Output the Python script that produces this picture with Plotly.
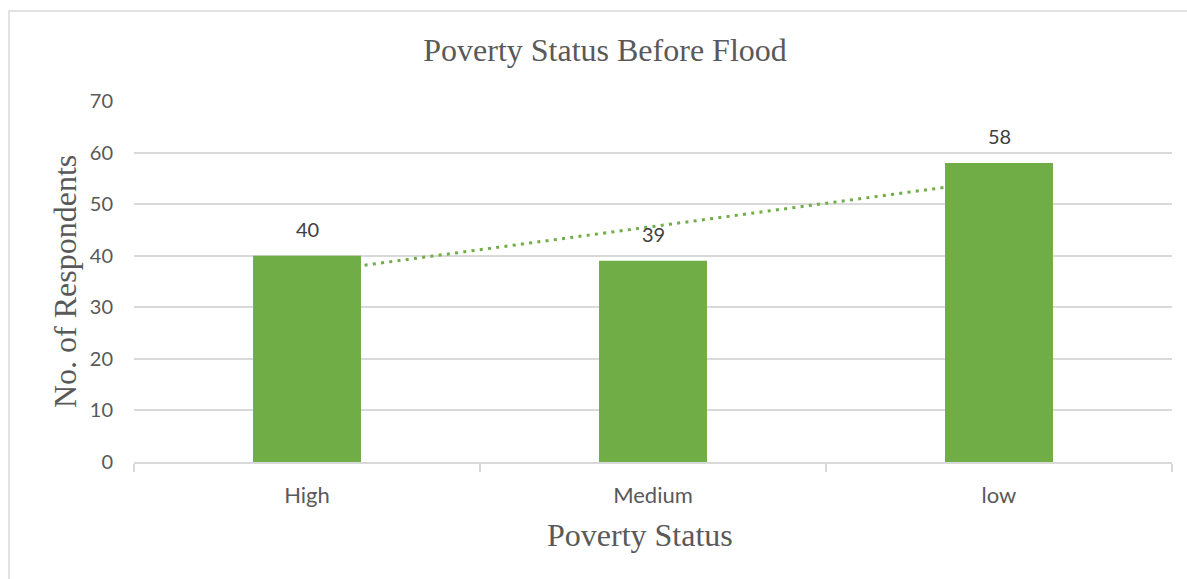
import numpy as np
import plotly.graph_objects as go

categories = ["High", "Medium", "low"]
respondents = [40, 39, 58]
y_ticks = [0, 10, 20, 30, 40, 50, 60, 70]

GREEN = "#70AD47"
GRID = "#D9D9D9"
TXT = "#595959"

# linear trendline (Excel-style) over category index
idx = np.arange(1, len(respondents) + 1)
slope, intercept = np.polyfit(idx, respondents, 1)
trend = (slope * idx + intercept).tolist()

fig = go.Figure()

# trendline on main axes (drawn beneath the overlaid bars)
fig.add_trace(go.Scatter(
    x=categories, y=trend, mode="lines",
    line=dict(color=GREEN, width=3, dash="3px,5.3px"),
    xaxis="x", yaxis="y", showlegend=False, hoverinfo="skip",
))

fig.add_trace(go.Bar(
    x=categories, y=respondents,
    marker=dict(color=GREEN, line=dict(width=0)),
    cliponaxis=False,
    xaxis="x2", yaxis="y2", showlegend=False,
))

axis_common = dict(range=[-0.5, 2.5], type="category", categoryorder="array",
                   categoryarray=categories)

annotations = [
    dict(x=c, y=v, xref="x2", yref="y2", text=str(v), showarrow=False,
         yshift=27, font=dict(family="Lato", size=20, color="#404040"))
    for c, v in zip(categories, respondents)
]
annotations += [
    dict(text="Poverty Status", xref="paper", yref="paper",
         x=(640 - 134) / 1038, y=(462 - 535) / 361, xanchor="center", yanchor="middle",
         showarrow=False, font=dict(family="Liberation Serif", size=32, color=TXT)),
    dict(text="No. of Respondents", xref="paper", yref="paper", textangle=-90,
         x=(65 - 134) / 1038, y=(462 - 282) / 361, xanchor="center", yanchor="middle",
         showarrow=False, font=dict(family="Liberation Serif", size=32, color=TXT)),
]

fig.update_layout(
    width=1187, height=579,
    paper_bgcolor="white", plot_bgcolor="white",
    margin=dict(l=134, r=15, t=101, b=117),
    bargap=0.688,
    title=dict(text="Poverty Status Before Flood", x=605 / 1187, xanchor="center",
               y=1 - 50 / 579, yanchor="middle",
               font=dict(family="Liberation Serif", size=32, color=TXT)),
    xaxis=dict(
        **axis_common,
        showgrid=False, showline=True, linecolor=GRID, linewidth=1.5,
        ticks="outside", tickson="boundaries", ticklen=8, tickcolor=GRID, tickwidth=1.5,
        ticklabelstandoff=13,
        tickfont=dict(family="Lato", size=22, color=TXT),
    ),
    yaxis=dict(
        range=[0, 70], tickvals=y_ticks, showgrid=True, gridcolor=GRID, gridwidth=1.5,
        zeroline=False, showline=False, ticks="", ticklabelstandoff=20,
        tickfont=dict(family="Lato", size=20, color=TXT),
    ),
    xaxis2=dict(**axis_common, overlaying="x", showgrid=False, showticklabels=False,
                showline=False, ticks=""),
    yaxis2=dict(range=[0, 70], overlaying="y", showgrid=False, showticklabels=False,
                zeroline=False, showline=False, ticks=""),
    annotations=annotations,
    shapes=[dict(type="rect", xref="paper", yref="paper",
                 x0=(9 - 134) / 1038, x1=(1200 - 134) / 1038,
                 y0=(462 - 600) / 361, y1=(462 - 11) / 361,
                 line=dict(color=GRID, width=1.5), fillcolor="rgba(0,0,0,0)", layer="below")],
)

fig.write_html("out.html")
